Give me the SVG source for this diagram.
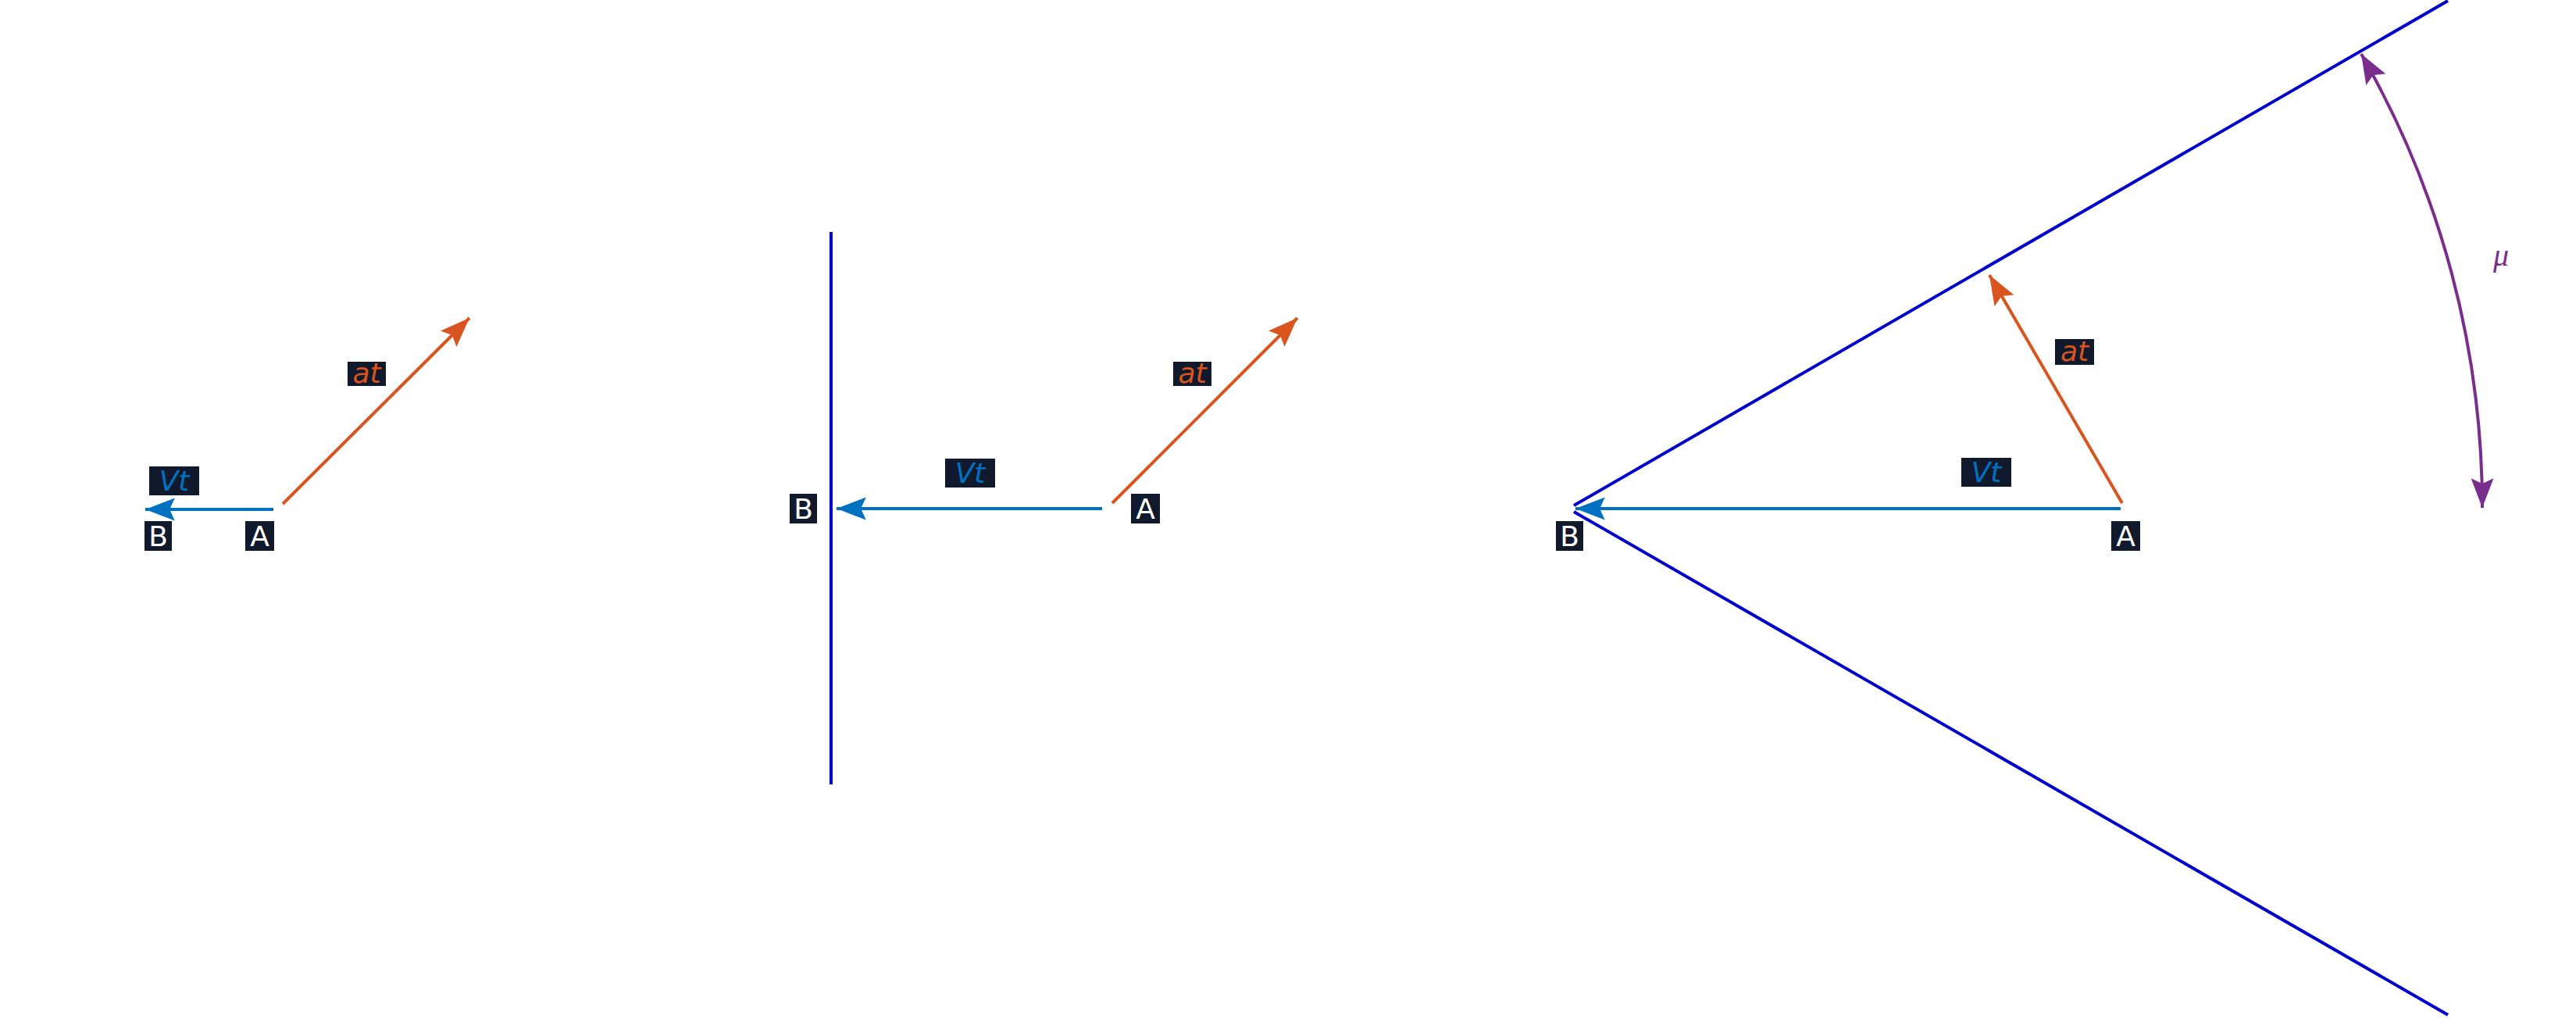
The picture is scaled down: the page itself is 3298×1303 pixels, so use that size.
<svg xmlns="http://www.w3.org/2000/svg" width="3298" height="1303" viewBox="0 0 3298 1303">
<style>
.bx{fill:#111a2c}
.nl{fill:#fff;font-family:"DejaVu Sans",sans-serif;font-size:36px;text-anchor:middle}
.lb{font-family:"DejaVu Sans",sans-serif;font-style:italic;font-size:36px;text-anchor:middle}
.vt{fill:#0070c0}.at{fill:#d9541e}
.bl{stroke:#0070c0;stroke-width:4;fill:none;marker-end:url(#mb)}
.or{stroke:#d9541e;stroke-width:4;fill:none;marker-end:url(#mo)}
.wall{stroke:#0000cc;stroke-width:4;fill:none}
</style>
<defs>
<marker id="mb" markerUnits="userSpaceOnUse" orient="auto" markerWidth="40" markerHeight="40" viewBox="-34 -14 36 28" refX="0" refY="0"><path d="M0,0 L-34,-13 L-28,0 L-34,13 z" fill="#0070c0"/></marker>
<marker id="mo" markerUnits="userSpaceOnUse" orient="auto" markerWidth="40" markerHeight="40" viewBox="-34 -14 36 28" refX="0" refY="0"><path d="M0,0 L-34,-13 L-28,0 L-34,13 z" fill="#d9541e"/></marker>
<marker id="mp" markerUnits="userSpaceOnUse" orient="auto-start-reverse" markerWidth="40" markerHeight="40" viewBox="-34 -14 36 28" refX="0" refY="0"><path d="M0,0 L-34,-13 L-28,0 L-34,13 z" fill="#7b2d8e"/></marker>
</defs>
<g id="connectors">
<line class="bl" x1="350" y1="652" x2="186" y2="652"/>
<line class="or" x1="362" y1="645" x2="601" y2="407"/>
<line class="wall" x1="1064" y1="297" x2="1064" y2="1004"/>
<line class="bl" x1="1411" y1="651" x2="1071" y2="651"/>
<line class="or" x1="1424" y1="644" x2="1661" y2="407"/>
<line class="wall" x1="2015" y1="647" x2="3134" y2="1"/>
<line class="wall" x1="2015" y1="655" x2="3134" y2="1299"/>
<line class="bl" x1="2715" y1="651" x2="2017" y2="651"/>
<line class="or" x1="2717" y1="644" x2="2547" y2="352"/>
<path d="M3178,650 A1163 1163 0 0 0 3023,69" stroke="#7b2d8e" stroke-width="4" fill="none" marker-start="url(#mp)" marker-end="url(#mp)"/>
</g>
<g id="p1-B"><rect class="bx" x="185" y="667" width="35" height="38"/><text class="nl" x="202.5" y="699">B</text></g>
<g id="p1-A"><rect class="bx" x="314" y="667" width="37" height="38"/><text class="nl" x="332.5" y="699">A</text></g>
<g id="p1-Vt"><rect class="bx" x="191" y="597" width="64" height="37"/><text class="lb vt" x="223" y="628">Vt</text></g>
<g id="p1-at"><rect class="bx" x="445" y="463" width="49" height="31"/><text class="lb at" x="469.5" y="490">at</text></g>
<g id="p2-B"><rect class="bx" x="1011" y="632" width="35" height="38"/><text class="nl" x="1028.5" y="664">B</text></g>
<g id="p2-A"><rect class="bx" x="1448" y="632" width="37" height="38"/><text class="nl" x="1466.5" y="664">A</text></g>
<g id="p2-Vt"><rect class="bx" x="1210" y="587" width="64" height="37"/><text class="lb vt" x="1242" y="618">Vt</text></g>
<g id="p2-at"><rect class="bx" x="1502" y="463" width="49" height="31"/><text class="lb at" x="1526.5" y="490">at</text></g>
<g id="p3-B"><rect class="bx" x="1992" y="667" width="35" height="38"/><text class="nl" x="2009.5" y="699">B</text></g>
<g id="p3-A"><rect class="bx" x="2703" y="667" width="37" height="38"/><text class="nl" x="2721.5" y="699">A</text></g>
<g id="p3-Vt"><rect class="bx" x="2511" y="586" width="64" height="37"/><text class="lb vt" x="2543" y="617">Vt</text></g>
<g id="p3-at"><rect class="bx" x="2631" y="434" width="50" height="33"/><text class="lb at" x="2656" y="462">at</text></g>
<g id="mu"><text x="3202" y="340" font-family="Liberation Serif,serif" font-style="italic" font-size="40" fill="#7b2d8e" text-anchor="middle">μ</text></g>
</svg>
